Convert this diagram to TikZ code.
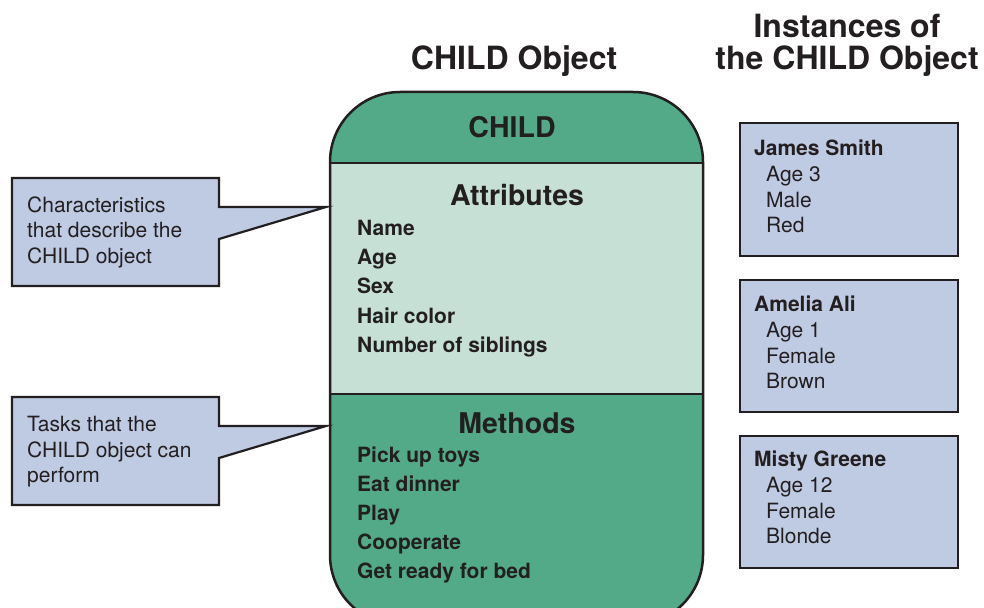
\documentclass[tikz,border=0pt]{standalone}
\usepackage{fontspec}
\setmainfont{TeX Gyre Heros}
\begin{document}
\begin{tikzpicture}[x=1pt,y=-1pt]
\definecolor{ink}{HTML}{231F20}
\definecolor{dkgreen}{HTML}{52AA88}
\definecolor{ltgreen}{HTML}{C6E0D6}
\definecolor{bluegrey}{HTML}{BFCBE2}
\tikzset{
  title/.style={font=\fontsize{32}{32}\selectfont\bfseries, text=ink, inner sep=0, anchor=base},
  head/.style={font=\fontsize{28.5}{28.5}\selectfont\bfseries, text=ink, inner sep=0, anchor=base},
  item/.style={font=\fontsize{21}{21}\selectfont\bfseries, text=ink, inner sep=0, anchor=base west},
  plain/.style={font=\fontsize{21}{21}\selectfont, text=ink, inner sep=0, anchor=base west},
  outline/.style={draw=ink, line width=2.5pt, line join=miter},
  instbox/.style={draw=ink, fill=bluegrey, line width=2.2pt},
  callout/.style={draw=ink, fill=bluegrey, line width=2.2pt, line join=miter}
}
\clip (0,0) rectangle (984,607);
\fill[white] (0,0) rectangle (984,607);

% titles
\node[title] (t1) at (514,70) {CHILD Object};
\node[title] (t2) at (847,38) {Instances of};
\node[title] (t3) at (847,70) {the CHILD Object};

% main object shape
\begin{scope}
  \clip[rounded corners=70pt] (330,625) -- (330,92) -- (703,92) -- (703,625) -- cycle;
  \fill[dkgreen] (320,80) rectangle (710,163);
  \fill[ltgreen] (320,163) rectangle (710,394);
  \fill[dkgreen] (320,394) rectangle (710,640);
\end{scope}
\draw[outline, rounded corners=70pt] (330,625) -- (330,92) -- (703,92) -- (703,625) -- cycle;
\coordinate (d1l) at (330,163); \coordinate (d1r) at (703,163);
\coordinate (d2l) at (330,394); \coordinate (d2r) at (703,394);
\draw[outline] (d1l) -- (d1r);
\draw[outline] (d2l) -- (d2r);

\node[head] (child) at (512,137) {CHILD};
\node[head] (attr) at (517,205) {Attributes};
\node[item] (a1) at (357,235) {Name};
\node[item] (a2) at (357,264) {Age};
\node[item] (a3) at (357,293) {Sex};
\node[item] (a4) at (357,323) {Hair color};
\node[item] (a5) at (357,352) {Number of siblings};
\node[head] (meth) at (517,433) {Methods};
\node[item] (m1) at (357,462) {Pick up toys};
\node[item] (m2) at (357,491) {Eat dinner};
\node[item] (m3) at (357,520) {Play};
\node[item] (m4) at (357,549) {Cooperate};
\node[item] (m5) at (357,578) {Get ready for bed};

% callouts
\draw[callout] (12,178) -- (219,178) -- (219,207) -- (326,207) -- (219,239) -- (219,286) -- (12,286) -- cycle;
\node[plain] (c1a) at (27,212) {Characteristics};
\node[plain] (c1b) at (27,237) {that describe the};
\node[plain] (c1c) at (27,263) {CHILD object};

\draw[callout] (12,397) -- (219,397) -- (219,426) -- (326,426) -- (219,458) -- (219,505) -- (12,505) -- cycle;
\node[plain] (c2a) at (27,431) {Tasks that the};
\node[plain] (c2b) at (27,457) {CHILD object can};
\node[plain] (c2c) at (27,482) {perform};

% instances
\draw[instbox] (740,123) rectangle (958,256);
\node[item] (i1n) at (754,155) {James Smith};
\node[plain] (i1a) at (766,181) {Age 3};
\node[plain] (i1b) at (766,207) {Male};
\node[plain] (i1c) at (766,232) {Red};

\draw[instbox] (740,280) rectangle (958,412);
\node[item] (i2n) at (754,311) {Amelia Ali};
\node[plain] (i2a) at (766,337) {Age 1};
\node[plain] (i2b) at (766,363) {Female};
\node[plain] (i2c) at (766,388) {Brown};

\draw[instbox] (740,436) rectangle (958,568);
\node[item] (i3n) at (754,466) {Misty Greene};
\node[plain] (i3a) at (766,492) {Age 12};
\node[plain] (i3b) at (766,518) {Female};
\node[plain] (i3c) at (766,543) {Blonde};
\end{tikzpicture}
\end{document}
